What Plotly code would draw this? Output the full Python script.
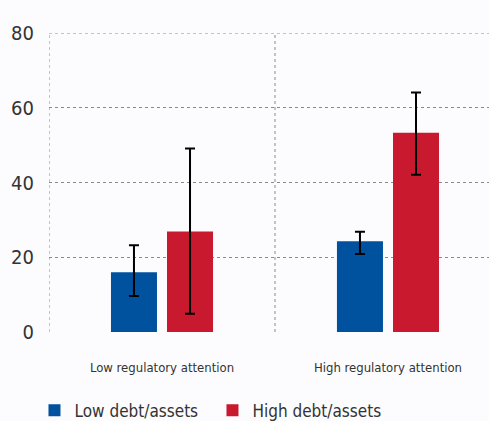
import plotly.graph_objects as go

categories = ["Low regulatory attention", "High regulatory attention"]
series_names = ["Low debt/assets", "High debt/assets"]
low_debt = [16.0, 24.3]
low_debt_err_hi = [23.2, 26.8]
low_debt_err_lo = [9.6, 20.9]
high_debt = [26.9, 53.3]
high_debt_err_hi = [49.1, 64.1]
high_debt_err_lo = [4.9, 42.1]
y_ticks = [0, 20, 40, 60, 80]

colors = ["#00529F", "#C8192E"]
FONT = "DejaVu Sans"
BG = "#fcfcfe"

fig = go.Figure()
for name, vals, hi, lo, col in [
    (series_names[0], low_debt, low_debt_err_hi, low_debt_err_lo, colors[0]),
    (series_names[1], high_debt, high_debt_err_hi, high_debt_err_lo, colors[1]),
]:
    fig.add_trace(go.Bar(
        x=categories, y=vals, name=name, marker=dict(color=col, line=dict(width=0)),
        error_y=dict(type="data", symmetric=False,
                     array=[h - v for h, v in zip(hi, vals)],
                     arrayminus=[v - l for v, l in zip(vals, lo)],
                     color="black", thickness=2, width=5),
    ))

grid_col = "#8a8a8a"
dot = dict(color=grid_col, width=1, dash="dot")
# left border, category separator, top line
fig.add_shape(type="line", xref="x", yref="y", x0=-0.5, x1=-0.5, y0=0, y1=80, line=dot, layer="below")
fig.add_shape(type="line", xref="x", yref="y", x0=0.5, x1=0.5, y0=0, y1=80, line=dot, layer="below")
fig.add_shape(type="line", xref="paper", yref="y", x0=0, x1=1, y0=80, y1=80, line=dot, layer="below")

fig.update_layout(
    width=489, height=421,
    margin=dict(l=49, r=0, t=33, b=89, autoexpand=False),
    paper_bgcolor=BG, plot_bgcolor=BG,
    barmode="group", bargap=0.504, bargroupgap=0.179,
    font=dict(family=FONT, color="#333333"),
    showlegend=True,
    legend=dict(orientation="h", x=-0.033, xanchor="left", y=-0.263, yanchor="middle",
                font=dict(size=17, color="#333333", family=FONT),
                entrywidth=133, entrywidthmode="pixels",
                itemwidth=30, traceorder="normal"),
    xaxis=dict(range=[-0.5, 1.447], showgrid=False, zeroline=False, showline=False,
               ticks="outside", ticklen=23, tickcolor="rgba(0,0,0,0)",
               tickfont=dict(size=13, color="#333333")),
    yaxis=dict(range=[0, 80], tickvals=y_ticks, showgrid=True, gridcolor=grid_col,
               griddash="dot", gridwidth=1, zeroline=False, showline=False,
               ticks="outside", ticklen=10, tickcolor="rgba(0,0,0,0)",
               tickfont=dict(size=20, color="#333333")),
)

post = """
var s=document.createElement('style');
s.textContent='html,body{margin:0;padding:0;overflow:hidden} svg text{font-stretch:condensed !important}';
document.head.appendChild(s);
var gd=document.getElementById('{plot_id}');
Plotly.relayout(gd,{});
"""
fig.write_html("out.html", post_script=post, config={"displayModeBar": False})
